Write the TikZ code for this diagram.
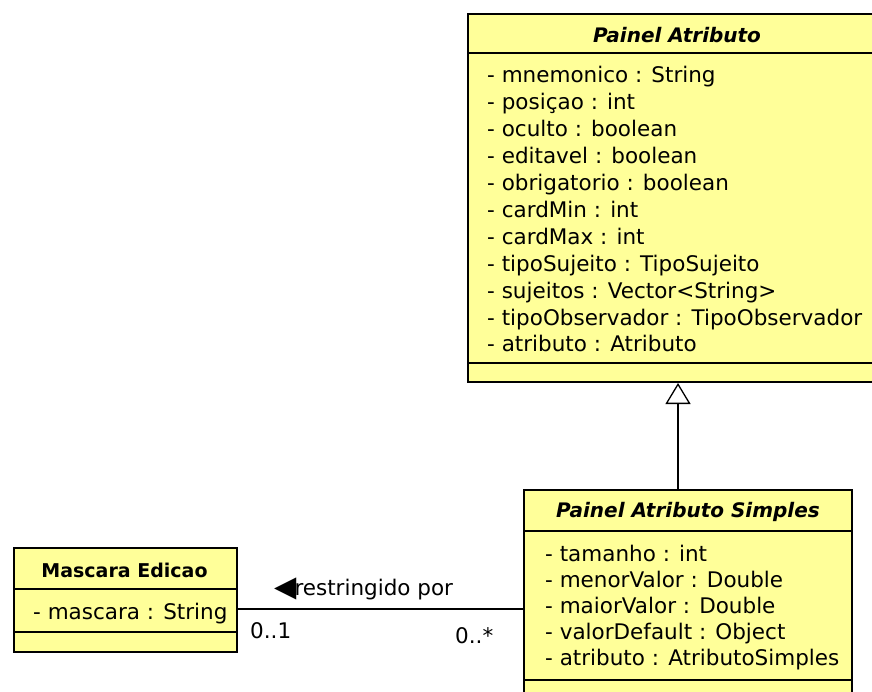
\documentclass[tikz,border=0pt]{standalone}
\usepackage{fontspec}
\setmainfont{DejaVu Sans}
\usetikzlibrary{arrows.meta}
\definecolor{umlfill}{HTML}{FFFF99}
\begin{document}
\begin{tikzpicture}[x=1pt,y=-1pt,
  classbox/.style={draw=black, line width=2pt, fill=umlfill, rectangle, inner sep=0pt, anchor=north west},
  sep/.style={line width=1.3pt},
  attr/.style={anchor=base west, inner sep=0pt, font=\fontsize{21.5}{26}\selectfont},
  abstitle/.style={anchor=base, inner sep=0pt, font=\fontsize{20}{24}\selectfont\bfseries\itshape},
  ctitle/.style={anchor=base, inner sep=0pt, font=\fontsize{19}{24}\selectfont\bfseries},
  lbl/.style={anchor=base west, inner sep=0pt, font=\fontsize{21.5}{26}\selectfont},
  conn/.style={line width=1.3pt}]
\useasboundingbox (0,0) rectangle (872,692);
\clip (0,0) rectangle (872,692);
\fill[white] (0,0) rectangle (872,692);

% Painel Atributo
\node[classbox, minimum width=420pt, minimum height=368pt] (pa) at (467,13) {};
\draw[sep] (pa.west |- 0,53) -- (pa.east |- 0,53);
\draw[sep] (pa.west |- 0,363) -- (pa.east |- 0,363);
\node[abstitle] (patitle) at (677,43) {Painel Atributo};
\node[attr] (pa1) at (487,83) {- mnemonico : String};
\node[attr] (pa2) at (487,109.9) {- posiçao : int};
\node[attr] (pa3) at (487,136.8) {- oculto : boolean};
\node[attr] (pa4) at (487,163.7) {- editavel : boolean};
\node[attr] (pa5) at (487,190.6) {- obrigatorio : boolean};
\node[attr] (pa6) at (487,217.5) {- cardMin : int};
\node[attr] (pa7) at (487,244.4) {- cardMax : int};
\node[attr] (pa8) at (487,271.3) {- tipoSujeito : TipoSujeito};
\node[attr] (pa9) at (487,298.2) {- sujeitos : Vector<String>};
\node[attr] (pa10) at (487,325.1) {- tipoObservador : TipoObservador};
\node[attr] (pa11) at (487,352) {- atributo : Atributo};

% Painel Atributo Simples
\node[classbox, minimum width=328pt, minimum height=215pt] (pas) at (523,489) {};
\draw[sep] (pas.west |- 0,531) -- (pas.east |- 0,531);
\draw[sep] (pas.west |- 0,680) -- (pas.east |- 0,680);
\node[abstitle] (pastitle) at (688,517) {Painel Atributo Simples};
\node[attr] (pas1) at (545,561) {- tamanho : int};
\node[attr] (pas2) at (545,587) {- menorValor : Double};
\node[attr] (pas3) at (545,613) {- maiorValor : Double};
\node[attr] (pas4) at (545,639) {- valorDefault : Object};
\node[attr] (pas5) at (545,665) {- atributo : AtributoSimples};

% Mascara Edicao
\node[classbox, minimum width=223pt, minimum height=104pt] (me) at (13,547) {};
\draw[sep] (me.west |- 0,589) -- (me.east |- 0,589);
\draw[sep] (me.west |- 0,632) -- (me.east |- 0,632);
\node[ctitle] (metitle) at (124.5,577) {Mascara Edicao};
\node[attr] (me1) at (33,619) {- mascara : String};

% Connectors
\coordinate (gx) at (678,0);
\draw[conn, -{Triangle[open, length=21pt, width=25pt, line width=1.3pt]}] (pas.north -| gx) -- (pa.south -| gx);
\coordinate (ay) at (0,609);
\draw[conn] (me.east |- ay) -- (pas.west |- ay);
\node[lbl] (assoc) at (274,595) {{\fontsize{29}{29}\selectfont\raisebox{-1pt}{◀}}\hspace{-2pt}restringido por};
\node[lbl] (m1) at (250,638) {0..1};
\node[lbl] (m2) at (455,643) {0..*};
\end{tikzpicture}
\end{document}
